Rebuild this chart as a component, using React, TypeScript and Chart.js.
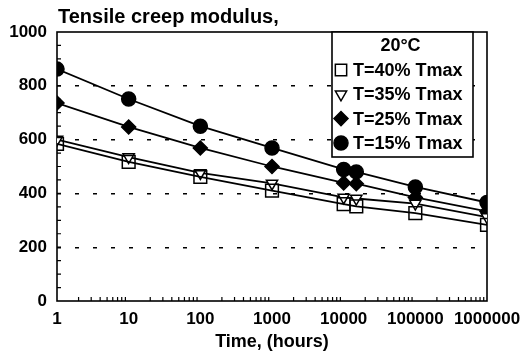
import React, { useEffect, useRef } from 'react';
import { Chart, registerables } from 'chart.js';
import { drawPoint } from 'chart.js/helpers';

Chart.register(...registerables);

const hours = [1, 10, 100, 1000, 10000, 15000, 100000, 1000000];
const t40 = [584, 517, 461, 410, 360, 352, 327, 283];
const t35 = [600, 535, 476, 437, 385, 381, 362, 312];
const t25 = [736, 647, 569, 500, 439, 436, 385, 333];
const t15 = [862, 751, 650, 569, 489, 480, 424, 366];
const seriesLabels = ['T=40% Tmax', 'T=35% Tmax', 'T=25% Tmax', 'T=15% Tmax'];
const legendTitle = '20°C';
const chartTitle = 'Tensile creep modulus,';
const xTitle = 'Time, (hours)';
const yMin = 0;
const yMax = 1000;
const yStep = 200;
const xMin = 1;
const xMax = 1000000;

const FONT = "'Liberation Sans', Arial, Helvetica, sans-serif";

const toPoints = (vals: number[]) => hours.map((h, i) => ({ x: h, y: vals[i] }));

const isDecade = (v: number) => {
  const l = Math.log10(v);
  return Math.abs(l - Math.round(l)) < 1e-9;
};

const framePlugin = {
  id: 'frame',
  beforeDatasetsDraw(chart: any) {
    const { ctx, chartArea: a, scales } = chart;
    ctx.save();
    ctx.strokeStyle = '#000';
    ctx.lineWidth = 1.6;
    ctx.strokeRect(a.left, a.top, a.right - a.left, a.bottom - a.top);
    ctx.lineWidth = 1.2;
    ctx.beginPath();
    const xs = scales.x;
    for (let d = xMin; d < xMax; d *= 10) {
      for (let k = 2; k <= 9; k++) {
        const px = xs.getPixelForValue(d * k);
        ctx.moveTo(px, a.bottom);
        ctx.lineTo(px, a.bottom - 4);
      }
    }
    const ys = scales.y;
    for (let v = yMin + 50; v < yMax; v += 50) {
      const py = ys.getPixelForValue(v);
      ctx.moveTo(a.left, py);
      ctx.lineTo(a.left + 4, py);
    }
    ctx.stroke();
    ctx.restore();
  },
  afterDraw(chart: any) {
    const { ctx, chartArea: a } = chart;
    ctx.save();
    ctx.fillStyle = '#000';
    ctx.font = `bold 20px ${FONT}`;
    ctx.textAlign = 'left';
    ctx.textBaseline = 'alphabetic';
    ctx.fillText(chartTitle, a.left + 1, 23);

    const left = a.right - 155;
    const top = a.top;
    const w = 141;
    const h = 125;
    ctx.fillStyle = '#fff';
    ctx.fillRect(left, top, w, h);
    ctx.strokeStyle = '#000';
    ctx.lineWidth = 1.6;
    ctx.strokeRect(left, top, w, h);
    ctx.fillStyle = '#000';
    ctx.font = `bold 18px ${FONT}`;
    ctx.textAlign = 'center';
    ctx.textBaseline = 'middle';
    ctx.fillText(legendTitle, left + w / 2 - 2, top + 14);
    ctx.textAlign = 'left';
    chart.data.datasets.forEach((ds: any, i: number) => {
      const cy = top + 38 + i * 24.3;
      const cx = left + 9;
      ctx.save();
      ctx.fillStyle = ds.pointBackgroundColor;
      ctx.strokeStyle = '#000';
      ctx.lineWidth = 1.5;
      drawPoint(ctx, {
        pointStyle: ds.pointStyle,
        rotation: ds.pointRotation || 0,
        radius: ds.legendRadius,
        borderWidth: 1.5,
      } as any, cx, cy);
      ctx.restore();
      ctx.fillStyle = '#000';
      ctx.fillText(ds.label, left + 21, cy + 1);
    });
    ctx.restore();
  },
};

export default function App() {
  const ref = useRef<HTMLCanvasElement | null>(null);
  useEffect(() => {
    if (!ref.current) return;
    const common = {
      borderColor: '#000',
      borderWidth: 1.8,
      pointBorderColor: '#000',
      pointBorderWidth: 1.5,
      tension: 0,
      fill: false,
    };
    const chart = new Chart(ref.current, {
      type: 'line',
      data: {
        datasets: [
          { ...common, label: seriesLabels[0], data: toPoints(t40), pointStyle: 'rect', pointRadius: 9, legendRadius: 8, pointBackgroundColor: 'rgba(255,255,255,0)' },
          { ...common, label: seriesLabels[1], data: toPoints(t35), pointStyle: 'triangle', pointRotation: 180, pointRadius: 6.5, legendRadius: 6.5, pointBackgroundColor: '#fff' },
          { ...common, label: seriesLabels[2], data: toPoints(t25), pointStyle: 'rectRot', pointRadius: 7, legendRadius: 7, pointBackgroundColor: '#000' },
          { ...common, label: seriesLabels[3], data: toPoints(t15), pointStyle: 'circle', pointRadius: 7, legendRadius: 7, pointBackgroundColor: '#000' },
        ] as any,
      },
      options: {
        animation: false,
        responsive: false,
        devicePixelRatio: 1,
        layout: { padding: { top: 32, right: 34, left: 0, bottom: 0 } },
        plugins: {
          legend: { display: false },
          title: { display: false },
          tooltip: { enabled: false },
        },
        scales: {
          x: {
            type: 'logarithmic',
            min: xMin,
            max: xMax,
            afterFit: (s: any) => { s.height = 55; s.paddingRight = 0; s.paddingLeft = 0; },
            grid: { display: false, drawTicks: false },
            border: { display: false },
            ticks: {
              autoSkip: false,
              maxRotation: 0,
              padding: 8,
              color: '#000',
              font: { family: FONT, size: 17, weight: 'bold' },
              callback: (v: any) => (isDecade(Number(v)) ? String(Math.round(Number(v))) : ''),
            },
            title: {
              display: true,
              text: xTitle,
              color: '#000',
              font: { family: FONT, size: 18, weight: 'bold' },
              padding: { top: 0, bottom: 3 },
            },
          },
          y: {
            type: 'linear',
            min: yMin,
            max: yMax,
            afterFit: (s: any) => { s.width = 57; },
            grid: {
              drawTicks: false,
              lineWidth: 1.4,
              color: (c: any) => (c.tick && (c.tick.value === yMin || c.tick.value === yMax) ? 'rgba(0,0,0,0)' : '#000'),
            },
            border: { display: false, dash: [4, 14] },
            ticks: {
              stepSize: yStep,
              padding: 10,
              color: '#000',
              font: { family: FONT, size: 17, weight: 'bold' },
              callback: (v: any) => String(v),
            },
          },
        },
      } as any,
      plugins: [framePlugin],
    });
    return () => chart.destroy();
  }, []);
  return (
    <div style={{ position: 'absolute', left: 0, top: 0, width: 521, height: 356, background: '#fff' }}>
      <canvas ref={ref} width={521} height={356} />
    </div>
  );
}
